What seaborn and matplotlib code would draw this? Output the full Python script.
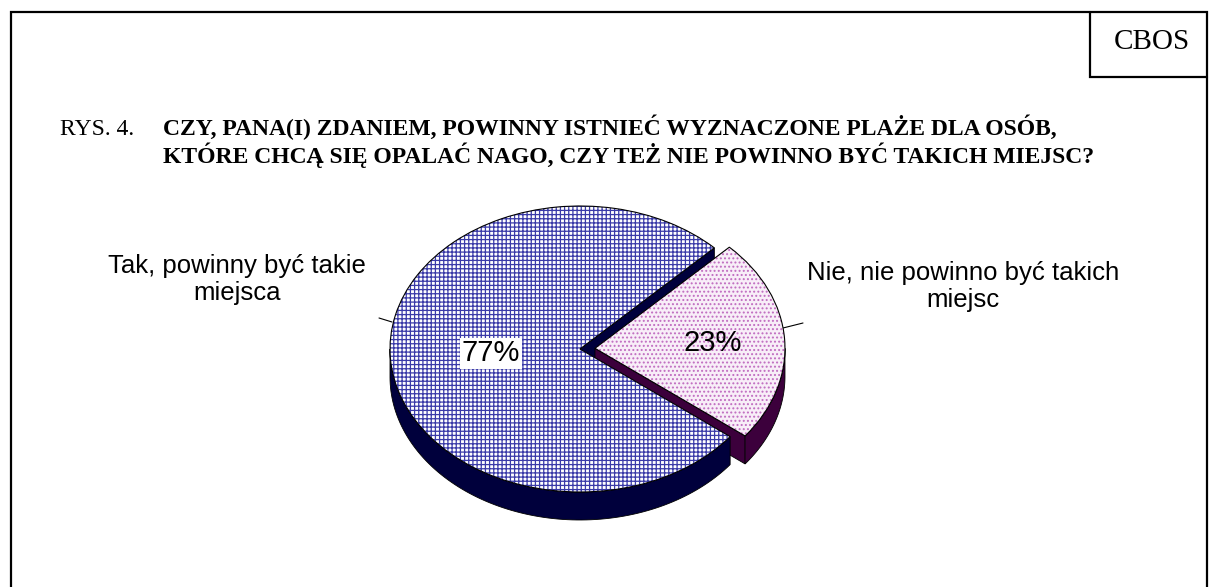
import numpy as np
import matplotlib
matplotlib.use("Agg")
import matplotlib.pyplot as plt
import seaborn as sns

# data
answers = ["Tak, powinny być takie\nmiejsca", "Nie, nie powinno być takich\nmiejsc"]
shares = [77, 23]
pct_labels = ["77%", "23%"]
explode = [0.0, 0.079]

title_prefix = "RYS. 4."
title_lines = ["CZY, PANA(I) ZDANIEM, POWINNY ISTNIEĆ WYZNACZONE PLAŻE DLA OSÓB,",
               "KTÓRE CHCĄ SIĘ OPALAĆ NAGO, CZY TEŻ NIE POWINNO BYĆ TAKICH MIEJSC?"]
source = "CBOS"

# styles
top_faces = ["white", "#f8eef8"]
top_hatch = ["++++", "...."]
hatch_colors = ["#3a3aa8", "#c06cc0"]
side_colors = ["#00003c", "#3c003c"]

sns.set_theme(style="white")
plt.rcParams["font.family"] = ["Liberation Sans", "DejaVu Sans"]
plt.rcParams["text.color"] = "black"
plt.rcParams["hatch.linewidth"] = 0.9

W, H = 1209, 587
fig = plt.figure(figsize=(W / 100, H / 100), dpi=100)
fig.patch.set_facecolor("white")

# background axes in pixel units (y down)
bg = fig.add_axes([0, 0, 1, 1])
bg.set_xlim(0, W)
bg.set_ylim(H, 0)
bg.axis("off")

# outer frame + CBOS box
bg.plot([11, 11, 1207, 1207], [H, 12, 12, H], color="black", lw=1.6, solid_joinstyle="miter")
bg.plot([1090, 1090, 1207], [12, 77, 77], color="black", lw=1.6, solid_joinstyle="miter")
bg.text(1152, 42, source, ha="center", va="center", fontsize=21, family="Liberation Serif")

# title
bg.text(60, 135, title_prefix, ha="left", va="baseline", fontsize=17, family="Liberation Serif")
for i, line in enumerate(title_lines):
    bg.text(163, 135 + 28 * i, line, ha="left", va="baseline", fontsize=17,
            family="Liberation Serif", fontweight="bold")

# pie axes: 1 unit = rx px horizontally, ry px vertically
cx, cy, rx, ry = 580, 349, 190, 143
depth = 28 / ry
lim = 1.5
pax = fig.add_axes([(cx - lim * rx) / W, (H - cy - lim * ry) / H,
                    2 * lim * rx / W, 2 * lim * ry / H])
pax.patch.set_alpha(0)

vals = np.array(shares, dtype=float)
edges = 45 + np.concatenate([[0], np.cumsum(vals)]) / vals.sum() * 360

# cut faces (visible ones), then curved sides
faces, curves = [], []
for i in range(len(vals)):
    t1, t2 = edges[i], edges[i + 1]
    mid = np.radians((t1 + t2) / 2)
    ox, oy = explode[i] * np.cos(mid), explode[i] * np.sin(mid)
    for t, vis in ((t1, np.cos(np.radians(t1)) > 0), (t2, np.cos(np.radians(t2)) < 0)):
        if vis:
            px, py = ox + np.cos(np.radians(t)), oy + np.sin(np.radians(t))
            faces.append(([ox, px, px, ox], [oy, py, py - depth, oy - depth], side_colors[i]))
    for k in (0, 1):
        a, b = max(t1, 180 + 360 * k), min(t2, 360 + 360 * k)
        if b > a:
            tt = np.radians(np.linspace(a, b, 100))
            xs = ox + np.cos(tt)
            ys = oy + np.sin(tt)
            curves.append((np.concatenate([xs, xs[::-1]]),
                           np.concatenate([ys, ys[::-1] - depth]), side_colors[i]))

for xs, ys, c in faces + curves:
    pax.fill(xs, ys, facecolor=c, edgecolor="black", linewidth=0.6, zorder=1)

wedges, _ = pax.pie(vals, startangle=45, explode=explode, radius=1,
                    wedgeprops=dict(linewidth=0))
for w, f, h, c in zip(wedges, top_faces, top_hatch, hatch_colors):
    w.set_facecolor(f)
    w.set_hatch(h)
    w.set_edgecolor(c)
    w.set_linewidth(0)
    w.set_zorder(2)
outlines, _ = pax.pie(vals, startangle=45, explode=explode, radius=1,
                      colors=["none"] * len(vals),
                      wedgeprops=dict(edgecolor="black", linewidth=0.8))
for w in outlines:
    w.set_zorder(3)

# percentage labels
pct_dist = [0.47, 0.62]
for i, txt in enumerate(pct_labels):
    mid = np.radians((edges[i] + edges[i + 1]) / 2)
    ox, oy = explode[i] * np.cos(mid), explode[i] * np.sin(mid)
    box = dict(facecolor="white", edgecolor="none", pad=1) if i == 0 else None
    pax.text(ox + pct_dist[i] * np.cos(mid), oy + pct_dist[i] * np.sin(mid), txt,
             ha="center", va="center", fontsize=21, zorder=4, bbox=box)

pax.set_xlim(-lim, lim)
pax.set_ylim(-lim, lim)
pax.set_aspect("auto")
pax.axis("off")

# category labels with leader lines
bg.text(237, 300, answers[0], ha="center", va="baseline", fontsize=18.5, linespacing=1.15)
bg.plot([379, 392], [318, 322], color="black", lw=0.8)
bg.text(963, 307, answers[1], ha="center", va="baseline", fontsize=18.5, linespacing=1.15)
bg.plot([783, 803], [328, 323], color="black", lw=0.8)

fig.savefig("out.png", dpi=100)
